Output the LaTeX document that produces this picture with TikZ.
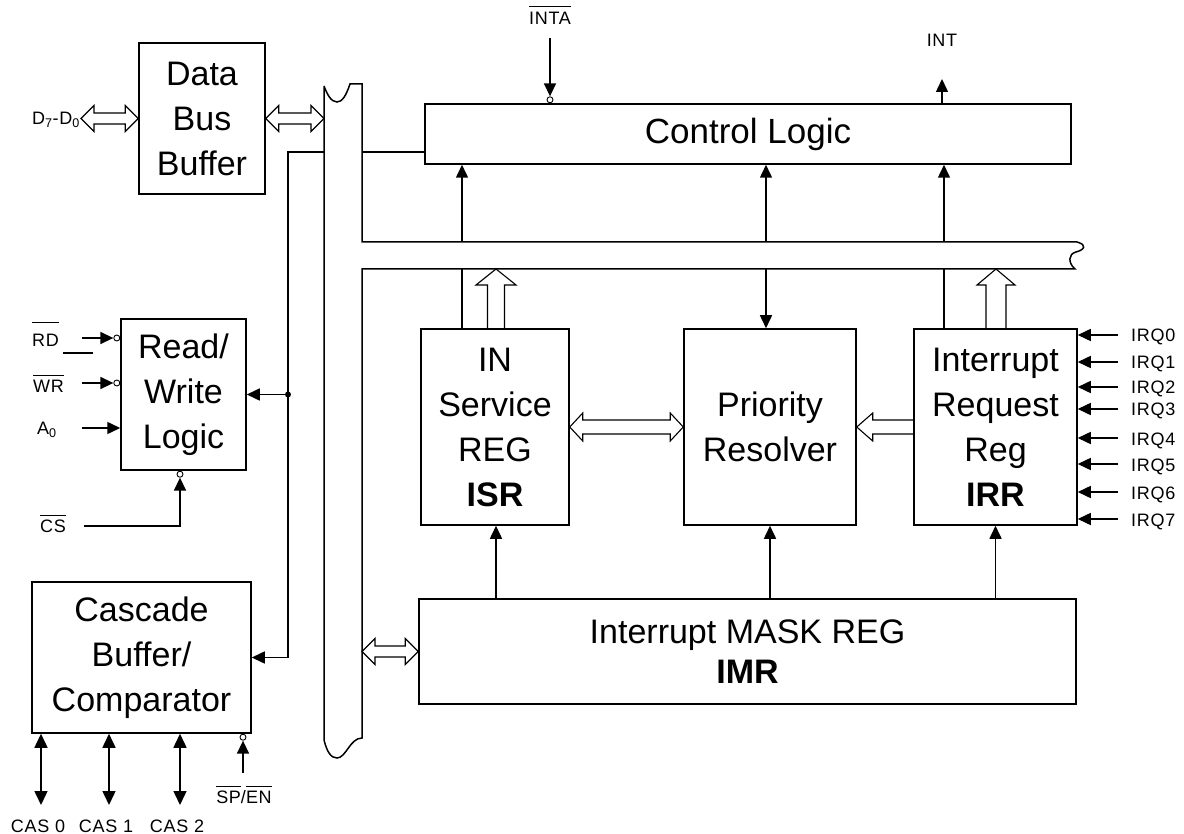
\documentclass[tikz,border=0pt]{standalone}
\usepackage{fontspec}
\setmainfont{Liberation Sans}
\newfontfamily\pinfont[LetterSpace=4]{Liberation Sans}
\usetikzlibrary{arrows.meta,calc}

% active-low pin name
\newcommand\lowact[2][5pt]{\vbox{\hrule height 0.9pt\kern#1\hbox{#2}}}

\tikzset{
  block/.style={draw, line width=1.5pt, align=center, inner sep=0pt,
                font=\fontsize{34}{45}\selectfont},
  wire/.style={line width=1.5pt},
  sig/.style={line width=1.5pt, -{Triangle[length=13pt,width=12pt]}},
  both/.style={line width=1.5pt, {Triangle[length=14pt,width=13pt]}-{Triangle[length=14pt,width=13pt]}},
  hollow/.style={line width=1.1pt, line join=miter},
  bubble/.style={draw, circle, line width=0.9pt, minimum size=6pt, inner sep=0pt},
  pin/.style={font=\fontsize{18}{20}\pinfont, inner sep=1pt},
}

% wide bus arrows
% \busto{tail}{tip}{half shaft}{half head}
\newcommand\busto[4]{%
  \draw[hollow] let \p1=(#1), \p2=(#2), \n1={atan2(\y2-\y1,\x2-\x1)} in
    ($(\p1)+(\n1+90:#3)$) -- ($(\p2)+(\n1+180:16pt)+(\n1+90:#3)$)
    -- ($(\p2)+(\n1+180:16pt)+(\n1+90:#4)$) -- (\p2)
    -- ($(\p2)+(\n1+180:16pt)+(\n1-90:#4)$)
    -- ($(\p2)+(\n1+180:16pt)+(\n1-90:#3)$) -- ($(\p1)+(\n1-90:#3)$);}
% \busboth{end}{end}{half shaft}{half head}
\newcommand\busboth[4]{%
  \draw[hollow] let \p1=(#1), \p2=(#2), \n1={atan2(\y2-\y1,\x2-\x1)} in
    (\p1) -- ($(\p1)+(\n1:13pt)+(\n1+90:#4)$) -- ($(\p1)+(\n1:13pt)+(\n1+90:#3)$)
    -- ($(\p2)+(\n1+180:13pt)+(\n1+90:#3)$) -- ($(\p2)+(\n1+180:13pt)+(\n1+90:#4)$)
    -- (\p2) -- ($(\p2)+(\n1+180:13pt)+(\n1-90:#4)$) -- ($(\p2)+(\n1+180:13pt)+(\n1-90:#3)$)
    -- ($(\p1)+(\n1:13pt)+(\n1-90:#3)$) -- ($(\p1)+(\n1:13pt)+(\n1-90:#4)$) -- cycle;}

\begin{document}
\begin{tikzpicture}[x=1pt,y=-1pt]
\useasboundingbox (0,0) rectangle (1184,834);

% blocks
\node[block, minimum width=126pt, minimum height=151pt] (dbb) at (202,118.5) {Data\\Bus\\Buffer};
\node[block, minimum width=646pt, minimum height=60pt, font=\fontsize{35}{45}\selectfont] (ctl) at (748,134) {Control Logic};
\node[block, minimum width=125pt, minimum height=151pt] (rw) at (183.5,394.5) {Read/\\Write\\Logic};
\node[block, minimum width=219pt, minimum height=151pt] (cas) at (141.5,657.5) {Cascade\\Buffer/\\Comparator};
\node[block, minimum width=148pt, minimum height=196pt] (isr) at (495,427) {IN\\Service\\REG\\\textbf{ISR}};
\node[block, minimum width=172pt, minimum height=196pt] (pr) at (770,427) {Priority\\Resolver};
\node[block, minimum width=163pt, minimum height=196pt] (irr) at (995.5,427) {Interrupt\\Request\\Reg\\\textbf{IRR}};
\node[block, minimum width=657pt, minimum height=105pt, font=\fontsize{34}{40}\selectfont] (imr) at (747.5,651.5) {Interrupt MASK REG\\\textbf{IMR}};

% internal bus, torn at its three ends
\draw[wire] (324,86) -- (324,740)
  .. controls (327,752) and (331,758) .. (337,758)
  .. controls (346,758) and (350,738) .. (362,738)
  -- (362,269) -- (1075,269)
  .. controls (1068,263) and (1068,254) .. (1076,252)
  .. controls (1084,250) and (1088,245) .. (1077,242)
  -- (362,242) -- (362,84) -- (350,84)
  .. controls (346,96) and (342,102) .. (337,102)
  .. controls (331,102) and (327,94) .. (324,86);

% bus edges and taps
\coordinate (busL) at (324,0);
\coordinate (busR) at (362,0);
\coordinate (busT) at (0,242);
\coordinate (busB) at (0,269);
\coordinate (spine) at (288,152);
\coordinate (tapA) at (462,0);
\coordinate (tapB) at (766,0);
\coordinate (tapC) at (944,0);
\coordinate (wideA) at (496,0);
\coordinate (wideC) at (996,0);

% bus to control logic
\draw[sig] (busT -| tapA) -- (ctl.south -| tapA);
\draw[sig] (busT -| tapB) -- (ctl.south -| tapB);
\draw[sig] (busT -| tapC) -- (ctl.south -| tapC);
\draw[sig] (busB -| tapB) -- (pr.north -| tapB);
\draw[wire] (isr.north -| tapA) -- (busB -| tapA);
\draw[wire] (irr.north -| tapC) -- (busB -| tapC);
\busto{isr.north -| wideA}{busB -| wideA}{8.5pt}{20pt}
\busto{irr.north -| wideC}{busB -| wideC}{10pt}{19pt}

% mask register
\draw[sig] (imr.north -| wideA) -- (isr.south -| wideA);
\draw[sig] (imr.north -| pr.south) -- (pr.south);
\draw[sig] (imr.north -| irr.south) -- (irr.south);

% register to resolver
\busboth{isr.east}{pr.west}{7pt}{14pt}
\busto{irr.west}{pr.east}{7pt}{14pt}
\busboth{busR |- imr.west}{imr.west}{5.5pt}{13pt}

% data bus
\node[pin, anchor=base east] (d70) at (81,125) {D\textsubscript{7}-D\textsubscript{0}};
\busboth{d70.east |- dbb.west}{dbb.west}{5.5pt}{13pt}
\busboth{dbb.east}{busL |- dbb.east}{5.5pt}{13pt}

% control lines
\draw[sig] (busL |- spine) -- (spine) -- (spine |- cas.east) -- (cas.east);
\draw[sig] (spine |- rw.east) -- (rw.east);
\fill (spine |- rw.east) circle (3pt);
\draw[wire] (busR |- spine) -- (ctl.west |- spine);

% INTA / INT
\node[pin, anchor=base] (inta) at (550,25) {\lowact[6pt]{INTA}};
\coordinate (intain) at (550,38);
\node[bubble, anchor=south] (intab) at (ctl.north -| intain) {};
\draw[sig] (intain) -- (intab);
\node[pin, anchor=base] (intl) at (942,47) {INT};
\coordinate (intout) at (942,79);
\draw[sig] (ctl.north -| intout) -- (intout);

% IRQ inputs
\foreach \i/\y in {0/335,1/362,2/387,3/409,4/438,5/464,6/492,7/519}{
  \coordinate (q\i) at (1118,\y);
  \node[pin, anchor=base west] (irq\i) at (1130,\y+7) {IRQ\i};
  \draw[sig] (q\i) -- (irr.east |- q\i);
}

% read/write inputs
\node[pin, anchor=base west] (rd) at (31,347) {\lowact[12pt]{RD}};
\node[pin, anchor=base west] (wr) at (32,392) {\lowact[4pt]{WR}};
\node[pin, anchor=base west] (a0) at (36,435) {A\textsubscript{0}};
\node[pin, anchor=base west] (cs) at (39,532) {\lowact[4pt]{CS}};
\coordinate (rdin) at (82,338);
\coordinate (wrin) at (82,383);
\coordinate (a0in) at (82,428);
\coordinate (csin) at (84,526);
\coordinate (csk) at (180,526);
\coordinate (rdbar) at (63,353);
\node[bubble, anchor=east] (rdb) at (rw.west |- rdin) {};
\node[bubble, anchor=east] (wrb) at (rw.west |- wrin) {};
\node[bubble, anchor=north] (csb) at (rw.south -| csk) {};
\draw[sig] (rdin) -- (rdb);
\draw[sig] (wrin) -- (wrb);
\draw[sig] (a0in) -- (rw.west |- a0in);
\draw[sig] (csin) -- (csk) -- (csb);
\draw[wire] (rdbar) -- ++(30,0);

% cascade lines
\foreach \i/\x in {0/41,1/109,2/180}{
  \coordinate (cas\i) at (\x,805);
  \draw[both] (cas.south -| cas\i) -- (cas\i);
  \node[pin, anchor=base] (caslab\i) at (\x-3,832) {CAS \i};
}
\coordinate (spin) at (243,773);
\node[bubble, anchor=north] (spb) at (cas.south -| spin) {};
\draw[sig] (spin) -- (spb);
\node[pin, anchor=base] (spen) at (244,803) {\lowact[4pt]{SP}/\lowact[4pt]{EN}};

\end{tikzpicture}
\end{document}
